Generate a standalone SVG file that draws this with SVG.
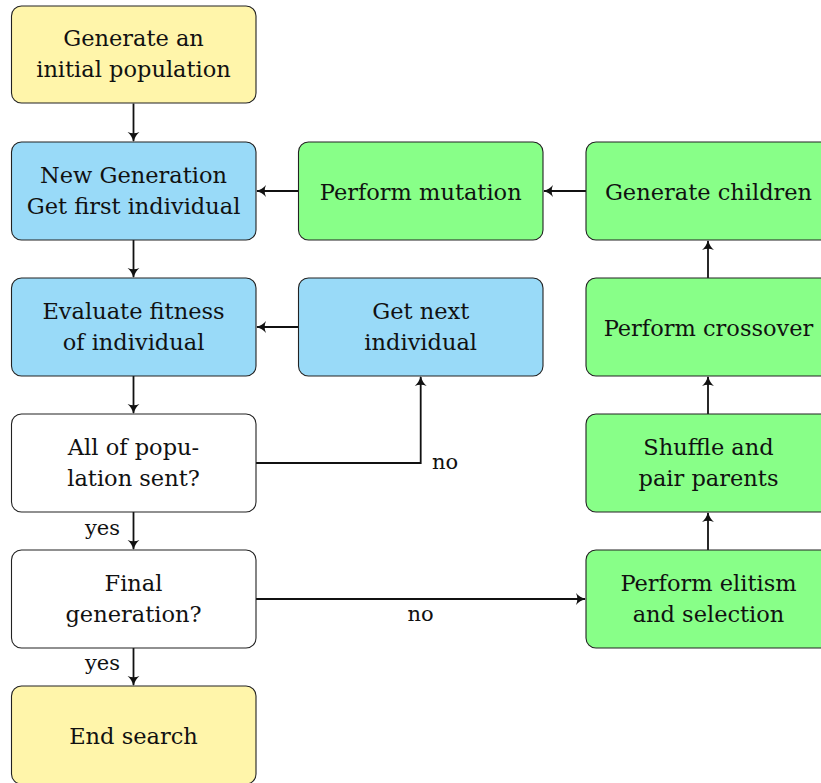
<svg xmlns="http://www.w3.org/2000/svg" width="821" height="783" viewBox="0 0 821 783">
<defs>
<style>
.box{stroke:#222;stroke-width:1.1}
.y{fill:#FFF5AA}.b{fill:#99DAF8}.g{fill:#88FF88}.w{fill:#fff}
.t{font-family:"DejaVu Serif",serif;font-size:22.5px;fill:#111;text-anchor:middle}
.lbl{font-family:"DejaVu Serif",serif;font-size:21px;fill:#111}
.c{fill:none;stroke:#111;stroke-width:1.8;marker-end:url(#ah)}
</style>
<marker id="ah" markerUnits="strokeWidth" markerWidth="7" markerHeight="7" refX="5.5" refY="3.5" orient="auto">
<path d="M6,3.5 Q2.5,2.6 0.5,0.2 Q2,3.5 0.5,6.8 Q2.5,4.4 6,3.5 Z" fill="#111"/>
</marker>
</defs>
<g id="connectors">
<path class="c" d="M133.5,103.5 V141"/>
<path class="c" d="M133.5,240 V277"/>
<path class="c" d="M133.5,376 V413"/>
<path class="c" d="M133.5,512 V549"/>
<path class="c" d="M133.5,648 V685"/>
<path class="c" d="M298.5,191 H257"/>
<path class="c" d="M586,191 H544"/>
<path class="c" d="M298.5,327 H257"/>
<path class="c" d="M256,463 H420.7 V377"/>
<path class="c" d="M256,599 H585"/>
<path class="c" d="M708,550 V513"/>
<path class="c" d="M708,414 V377"/>
<path class="c" d="M708,278 V241"/>
<text class="lbl" x="432" y="469">no</text>
<text class="lbl" x="420.5" y="621" text-anchor="middle">no</text>
<text class="lbl" x="85" y="535">yes</text>
<text class="lbl" x="85" y="670">yes</text>
</g>
<g id="n1"><rect class="box y" x="11.5" y="6" width="244.5" height="97" rx="10"/><text class="t" x="133.5" y="46">Generate an</text><text class="t" x="133.5" y="77">initial population</text></g>
<g id="n2"><rect class="box b" x="11.5" y="142" width="244.5" height="98" rx="10"/><text class="t" x="133.5" y="183">New Generation</text><text class="t" x="133.5" y="214">Get first individual</text></g>
<g id="n3"><rect class="box b" x="11.5" y="278" width="244.5" height="98" rx="10"/><text class="t" x="133.5" y="319">Evaluate fitness</text><text class="t" x="133.5" y="350">of individual</text></g>
<g id="n4"><rect class="box w" x="11.5" y="414" width="244.5" height="98" rx="10"/><text class="t" x="133.5" y="455">All of popu-</text><text class="t" x="133.5" y="486">lation sent?</text></g>
<g id="n5"><rect class="box w" x="11.5" y="550" width="244.5" height="98" rx="10"/><text class="t" x="133.5" y="591">Final</text><text class="t" x="133.5" y="622">generation?</text></g>
<g id="n6"><rect class="box y" x="11.5" y="686" width="244.5" height="98" rx="10"/><text class="t" x="133.5" y="744">End search</text></g>
<g id="n7"><rect class="box g" x="298.5" y="142" width="244.5" height="98" rx="10"/><text class="t" x="420.7" y="200">Perform mutation</text></g>
<g id="n8"><rect class="box b" x="298.5" y="278" width="244.5" height="98" rx="10"/><text class="t" x="420.7" y="319">Get next</text><text class="t" x="420.7" y="350">individual</text></g>
<g id="n9"><rect class="box g" x="586" y="142" width="245" height="98" rx="10"/><text class="t" x="708.5" y="200">Generate children</text></g>
<g id="n10"><rect class="box g" x="586" y="278" width="245" height="98" rx="10"/><text class="t" x="708.5" y="336">Perform crossover</text></g>
<g id="n11"><rect class="box g" x="586" y="414" width="245" height="98" rx="10"/><text class="t" x="708.5" y="455">Shuffle and</text><text class="t" x="708.5" y="486">pair parents</text></g>
<g id="n12"><rect class="box g" x="586" y="550" width="245" height="98" rx="10"/><text class="t" x="708.5" y="591">Perform elitism</text><text class="t" x="708.5" y="622">and selection</text></g>
</svg>
